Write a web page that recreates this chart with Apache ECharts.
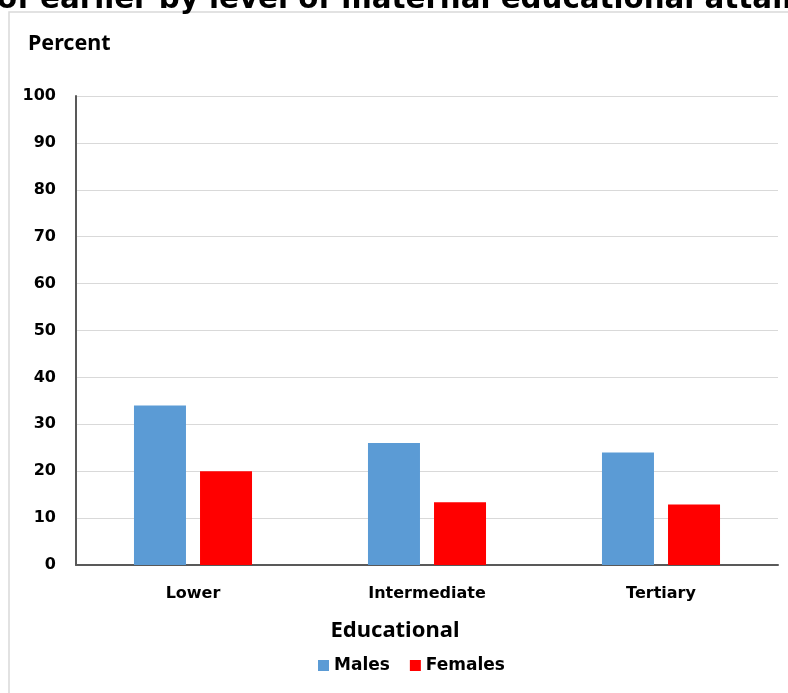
<!DOCTYPE html>
<html><head><meta charset="utf-8">
<script src="https://cdn.jsdelivr.net/npm/echarts@6/dist/echarts.min.js"></script>
<style>html,body{margin:0;padding:0;background:#fff}#c{width:788px;height:693px}</style>
</head><body><div id="c"></div>
<script>
const categories = ['Lower', 'Intermediate', 'Tertiary'];
const males = [34, 26, 24];
const females = [20, 13.4, 12.9];
const seriesNames = ['Males', 'Females'];
const titleText = 'of earlier by level of maternal educational attainment';

const chart = echarts.init(document.getElementById('c'), null, {renderer: 'canvas'});
const tickFont = '"DejaVu Sans", Verdana, sans-serif';
const headFont = '"Noto Sans", sans-serif';
chart.setOption({
  animation: false,
  backgroundColor: '#fff',
  graphic: [
    {type: 'rect', shape: {x: 9, y: 12, width: 800, height: 700}, style: {fill: 'none', stroke: '#d9d9d9', lineWidth: 1.5}, z: -1},
    {type: 'text', left: -3, top: -14, style: {text: titleText, font: 'bold 29.3px "DejaVu Sans", sans-serif', fill: '#000'}},
    {type: 'text', left: 28, top: 33, style: {text: 'Percent', font: 'bold 21.5px ' + headFont, fill: '#000'}}
  ],
  grid: {left: 76, right: 10, top: 96, bottom: 128},
  legend: {
    data: seriesNames, top: 652, left: 313, icon: 'rect', itemWidth: 11, itemHeight: 11, itemGap: 20,
    textStyle: {fontFamily: tickFont, fontWeight: 'bold', fontSize: 17, color: '#000'}
  },
  xAxis: {
    type: 'category', data: categories,
    name: 'Educational', nameLocation: 'middle', nameGap: 55,
    nameTextStyle: {fontFamily: headFont, fontSize: 22, fontWeight: 'bold', color: '#000', padding: [0, 64, 0, 0]},
    axisLine: {lineStyle: {color: '#595959', width: 2}}, axisTick: {show: false},
    axisLabel: {fontFamily: tickFont, fontWeight: 'bold', fontSize: 16, color: '#000', margin: 21}
  },
  yAxis: {
    type: 'value', min: 0, max: 100, interval: 10,
    axisLine: {show: true, lineStyle: {color: '#595959', width: 2}}, axisTick: {show: false},
    splitLine: {lineStyle: {color: '#d9d9d9', width: 1}},
    axisLabel: {fontFamily: tickFont, fontWeight: 'bold', fontSize: 16, color: '#000', margin: 20}
  },
  series: [
    {name: seriesNames[0], type: 'bar', data: males, barWidth: 52, barGap: '27%', itemStyle: {color: '#5b9bd5'}},
    {name: seriesNames[1], type: 'bar', data: females, barWidth: 52, itemStyle: {color: '#ff0000'}}
  ]
});
</script></body></html>
